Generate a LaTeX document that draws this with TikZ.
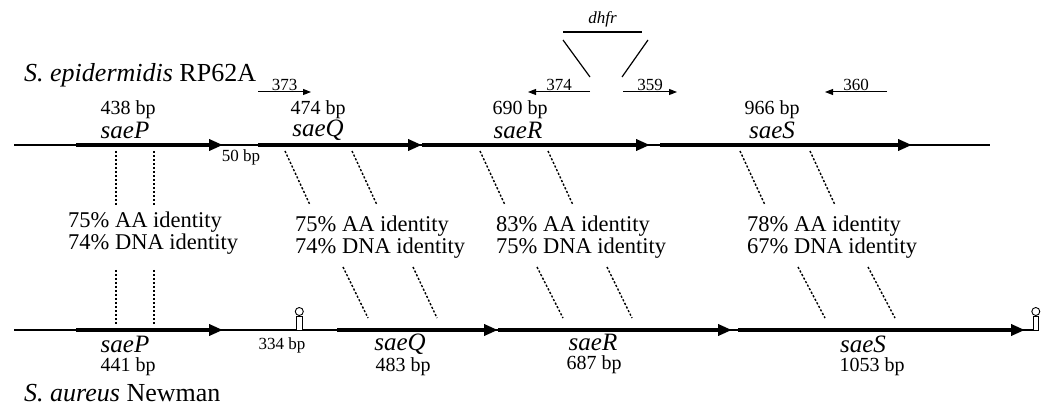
\documentclass[tikz,border=0pt]{standalone}
\usepackage{fontspec}
\setmainfont{Liberation Serif}
\usetikzlibrary{arrows.meta, positioning}

\begin{document}
\begin{tikzpicture}[x=1pt, y=-1pt,
  backbone/.style={line width=1.2pt},
  gene/.style={line width=4pt, -{Triangle[length=14pt, width=11pt]}},
  primer/.style={line width=1pt, -{Triangle[length=8pt, width=6pt]}},
  homol/.style={line width=1.4pt, dash pattern=on 2.2pt off 1.8pt},
  genename/.style={font=\fontsize{25}{25}\selectfont\itshape, inner sep=0pt},
  bpsize/.style={font=\fontsize{20}{20}\selectfont, inner sep=0pt},
  small/.style={font=\fontsize{17}{17}\selectfont, inner sep=1pt},
  ident/.style={font=\fontsize{22.5}{20}\selectfont, align=left, inner sep=0pt, anchor=west},
  species/.style={font=\fontsize{26}{26}\selectfont, inner sep=0pt, anchor=west},
]
\useasboundingbox (0,0) rectangle (1041,403);

% S. epidermidis row
\node[species] (epi) at (24,75) {\textit{S. epidermidis} RP62A};
\coordinate (eL) at (14,145);   \coordinate (eR) at (990,145);
\coordinate (ePs) at (76,145);  \coordinate (ePe) at (223,145);
\coordinate (eQs) at (258,145); \coordinate (eQe) at (422,145);
\coordinate (eRs) at (422,145); \coordinate (eRe) at (650,145);
\coordinate (eSs) at (660,145); \coordinate (eSe) at (912,145);
\draw[backbone] (eL) -- (eR);
\draw[gene] (ePs) -- (ePe);
\draw[gene] (eQs) -- (eQe);
\draw[gene] (eRs) -- (eRe);
\draw[gene] (eSs) -- (eSe);

\node[bpsize] (eP bp) at (128,110) {438 bp};
\node[genename] (eP) at (125,130) {saeP};
\node[small] (gap50) at (241,157) {50 bp};
\node[bpsize] (eQ bp) at (318,110) {474 bp};
\node[genename] (eQ) at (318,130) {saeQ};
\node[bpsize] (eR bp) at (520,110) {690 bp};
\node[genename] (eR) at (518,130) {saeR};
\node[bpsize] (eS bp) at (772,110) {966 bp};
\node[genename] (eS) at (772,130) {saeS};

% primers
\coordinate (p373a) at (258,92); \coordinate (p373b) at (311,92);
\coordinate (p374a) at (590,92); \coordinate (p374b) at (528,92);
\coordinate (p359a) at (623,92); \coordinate (p359b) at (677,92);
\coordinate (p360a) at (887,92); \coordinate (p360b) at (825,92);
\draw[primer] (p373a) -- (p373b) node[midway, above, small] (l373) {373};
\draw[primer] (p374a) -- (p374b) node[midway, above, small] (l374) {374};
\draw[primer] (p359a) -- (p359b) node[midway, above, small] (l359) {359};
\draw[primer] (p360a) -- (p360b) node[midway, above, small] (l360) {360};

% dhfr insertion
\coordinate (dL) at (563,32); \coordinate (dR) at (642,32);
\draw[line width=1.8pt] (dL) -- (dR) node[midway, above=3pt, small] (dhfr) {\textit{dhfr}};
\draw[line width=1.2pt] (563,40) -- (590,77);
\draw[line width=1.2pt] (648,40) -- (622,77);

% homology lines
\foreach \xa/\xb in {116/116, 154/154, 285/310, 352/377, 480/505, 548/573, 740/765, 810/835}
  \draw[homol] (\xa,151) -- (\xb,205);
\foreach \xa/\xb in {116/116, 154/154}
  \draw[homol] (\xa,270) -- (\xb,325);
\foreach \xa/\xb in {343/368, 413/437, 537/563, 607/632, 798/825, 868/895}
  \draw[homol] (\xa,267) -- (\xb,318);

\node[ident] (idP) at (68,233) {75\% AA identity\\74\% DNA identity};
\node[ident] (idQ) at (295,237) {75\% AA identity\\74\% DNA identity};
\node[ident] (idR) at (496,237) {83\% AA identity\\75\% DNA identity};
\node[ident] (idS) at (747,237) {78\% AA identity\\67\% DNA identity};

% S. aureus row
\coordinate (aL) at (14,330);   \coordinate (aR) at (1036,330);
\coordinate (aPs) at (76,330);  \coordinate (aPe) at (223,330);
\coordinate (aQs) at (337,330); \coordinate (aQe) at (498,330);
\coordinate (aRs) at (498,330); \coordinate (aRe) at (732,330);
\coordinate (aSs) at (738,330); \coordinate (aSe) at (1025,330);
\draw[backbone] (aL) -- (aR);
\draw[gene] (aPs) -- (aPe);
\draw[gene] (aQs) -- (aQe);
\draw[gene] (aRs) -- (aRe);
\draw[gene] (aSs) -- (aSe);

% terminators
\draw[line width=0.9pt, fill=white] (296.5,330) rectangle (302,316);
\draw[line width=0.9pt, fill=white] (299.3,311.5) circle (4);
\draw[line width=0.9pt, fill=white] (1033,330) rectangle (1038.5,316);
\draw[line width=0.9pt, fill=white] (1035.8,311.5) circle (4);

\node[genename] (aP) at (125,344) {saeP};
\node[bpsize] (aP bp) at (128,367) {441 bp};
\node[small] (gap334) at (282,345) {334 bp};
\node[genename] (aQ) at (400,344) {saeQ};
\node[bpsize] (aQ bp) at (403,367) {483 bp};
\node[genename] (aR) at (593,342) {saeR};
\node[bpsize] (aR bp) at (594,365) {687 bp};
\node[genename] (aS) at (863,344) {saeS};
\node[bpsize] (aS bp) at (872,367) {1053 bp};

\node[species] (aur) at (24,393) {\textit{S. aureus} Newman};
\end{tikzpicture}
\end{document}
